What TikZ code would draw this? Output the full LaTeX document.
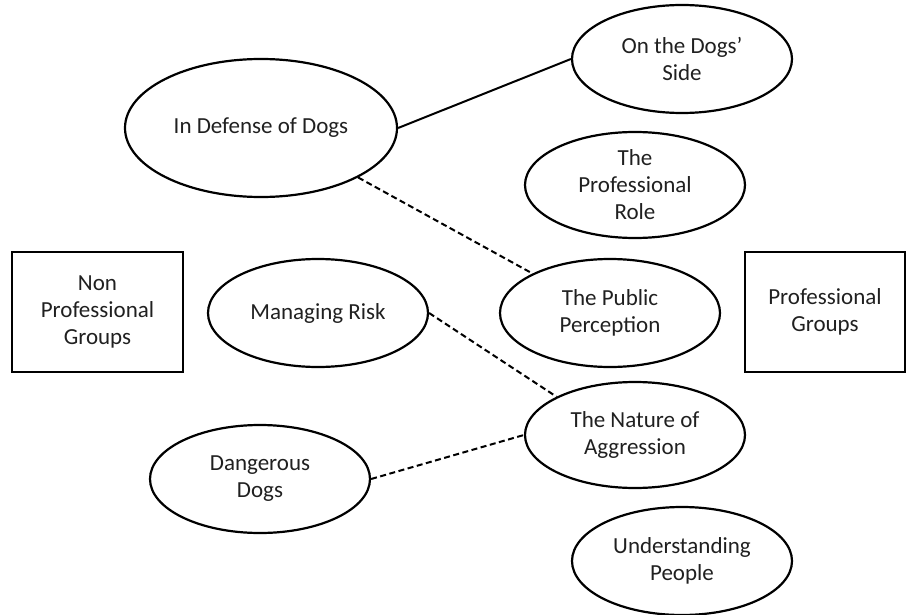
\documentclass[tikz,border=0pt]{standalone}
\usepackage{fontspec}
\setmainfont{Carlito}
\usetikzlibrary{shapes.geometric}
\definecolor{txtc}{HTML}{202020}
\begin{document}
\begin{tikzpicture}[x=1pt,y=-1pt,
  every node/.style={font=\fontsize{23}{27}\selectfont, text=txtc, align=center, inner sep=0pt},
  oval/.style={draw, ellipse, line width=2.2pt, minimum width=220pt, minimum height=108pt},
  box/.style={draw, rectangle, line width=2.2pt, minimum width=171pt, minimum height=120pt},
  link/.style={line width=2pt},
  dlink/.style={line width=2pt, dash pattern=on 6pt off 3.5pt}]
\useasboundingbox (0,0) rectangle (907,615);
\node[oval, minimum width=272pt, minimum height=138pt] (indef) at (261,128) {In Defense of Dogs};
\node[oval] (side) at (682,59) {On the Dogs’\\Side};
\node[oval, minimum height=106pt] (role) at (635,185) {The\\Professional\\Role};
\node[oval] (pub) at (610,313) {The Public\\Perception};
\node[oval] (risk) at (318,313) {Managing Risk};
\node[oval, minimum height=106pt] (nat) at (635,435) {The Nature of\\Aggression};
\node[oval] (dang) at (260,479) {Dangerous\\Dogs};
\node[oval] (und) at (682,561) {Understanding\\People};
\node[box] (npg) at (97.5,312) {Non\\Professional\\Groups};
\node[box, minimum width=160pt] (pg) at (825,312) {Professional\\Groups};
\draw[link] (indef.east) -- (side.west);
\draw[dlink] (indef.-27) -- (pub.153);
\draw[dlink] (risk.east) -- (nat.154);
\draw[dlink] (dang.east) -- (nat.west);
\end{tikzpicture}
\end{document}
